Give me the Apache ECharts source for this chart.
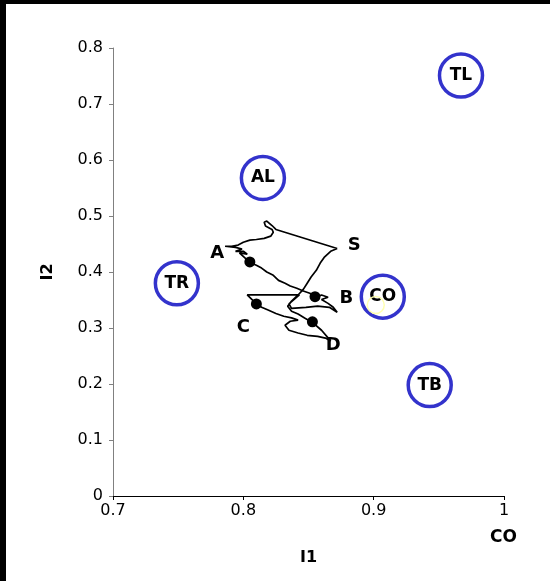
<!DOCTYPE html>
<html>
<head>
<meta charset="utf-8">
<script src="https://cdn.jsdelivr.net/npm/echarts@6/dist/echarts.min.js"></script>
<style>
  html, body { margin: 0; padding: 0; background: #fff; }
  #chart { width: 550px; height: 581px; }
</style>
</head>
<body>
<div id="chart"></div>
<script>
// trajectory in the (I1, I2) plane
let trajI1 = [0.872, 0.825, 0.822, 0.818, 0.816, 0.817, 0.822, 0.823, 0.821, 0.816,
	0.810, 0.805, 0.800, 0.796, 0.791, 0.786, 0.794, 0.799, 0.794, 0.800,
	0.803, 0.797, 0.805, 0.810, 0.814, 0.818, 0.823, 0.827, 0.832, 0.836,
	0.841, 0.846, 0.851, 0.856, 0.860, 0.865, 0.860, 0.865, 0.869, 0.872,
	0.866, 0.857, 0.848, 0.837, 0.835, 0.839, 0.843, 0.820, 0.803, 0.810,
	0.814, 0.819, 0.825, 0.831, 0.837, 0.842, 0.836, 0.832, 0.835, 0.842,
	0.849, 0.857, 0.863, 0.867, 0.860, 0.853, 0.847, 0.842, 0.837, 0.834,
	0.837, 0.842, 0.846, 0.849, 0.852, 0.856, 0.859, 0.862, 0.867, 0.872]
let trajI2 = [0.442, 0.476, 0.483, 0.491, 0.489, 0.482, 0.476, 0.471, 0.464, 0.460,
	0.458, 0.457, 0.453, 0.448, 0.446, 0.446, 0.444, 0.441, 0.437, 0.437,
	0.432, 0.434, 0.417, 0.412, 0.407, 0.400, 0.394, 0.385, 0.380, 0.375,
	0.371, 0.366, 0.362, 0.355, 0.359, 0.355, 0.351, 0.344, 0.337, 0.328,
	0.337, 0.339, 0.337, 0.335, 0.343, 0.351, 0.359, 0.359, 0.359, 0.343,
	0.337, 0.332, 0.326, 0.321, 0.318, 0.314, 0.312, 0.305, 0.296, 0.291,
	0.287, 0.285, 0.282, 0.277, 0.296, 0.310, 0.318, 0.325, 0.330, 0.339,
	0.348, 0.359, 0.369, 0.380, 0.391, 0.403, 0.416, 0.426, 0.437, 0.442]

// black dots on the trajectory
let dotI1 = [0.805, 0.855, 0.810, 0.853]
let dotI2 = [0.418, 0.356, 0.343, 0.311]

// letters next to the trajectory
let pointNames = ['A', 'S', 'B', 'C', 'D']
let pointI1 = [0.780, 0.885, 0.879, 0.800, 0.869]
let pointI2 = [0.433, 0.448, 0.353, 0.302, 0.269]

// reference states (blue circles)
let refNames = ['TL', 'AL', 'TR', 'CO', 'TB']
let refI1 = [0.967, 0.815, 0.749, 0.907, 0.943]
let refI2 = [0.751, 0.568, 0.380, 0.356, 0.198]

let xTicks = [0.7, 0.8, 0.9, 1]
let yTicks = [0, 0.1, 0.2, 0.3, 0.4, 0.5, 0.6, 0.7, 0.8]

function zip(a, b) {
	let out = []
	for (let i = 0; i < a.length; i++) {
		out.push([a[i], b[i]])
	}
	return out
}

let font = 'DejaVu Sans'
let myChart = echarts.init(document.getElementById('chart'))

let option = {
	animation: false,
	backgroundColor: '#fff',
	grid: {
		left: 113,
		right: 46,
		top: 48,
		bottom: 85
	},
	xAxis: {
		type: 'value',
		min: xTicks[0],
		max: xTicks[xTicks.length - 1],
		interval: 0.1,
		name: 'I1',
		nameLocation: 'middle',
		nameGap: 54,
		nameTextStyle: { color: '#000', fontFamily: font, fontWeight: 'bold', fontSize: 16 },
		axisLine: { lineStyle: { color: '#000', width: 1 } },
		axisTick: { inside: false, length: 4, lineStyle: { color: '#000' } },
		axisLabel: { color: '#000', fontFamily: font, fontSize: 16, margin: 7 },
		splitLine: { show: false }
	},
	yAxis: {
		type: 'value',
		min: yTicks[0],
		max: yTicks[yTicks.length - 1],
		interval: 0.1,
		name: 'I2',
		nameLocation: 'middle',
		nameGap: 57,
		nameTextStyle: { color: '#000', fontFamily: font, fontWeight: 'bold', fontSize: 16 },
		axisLine: { show: true, lineStyle: { color: '#808080', width: 1 } },
		axisTick: { show: true, inside: false, length: 4, lineStyle: { color: '#808080' } },
		axisLabel: { color: '#000', fontFamily: font, fontSize: 16, margin: 10 },
		splitLine: { show: false }
	},
	graphic: [
		{ type: 'rect', shape: { x: 0, y: 0, width: 550, height: 4 }, style: { fill: '#000' } },
		{ type: 'rect', shape: { x: 0, y: 0, width: 6, height: 581 }, style: { fill: '#000' } },
		{
			type: 'text', left: 490, top: 529,
			style: { text: 'CO', fill: '#000', font: 'bold 17px "DejaVu Sans"' }
		}
	],
	series: [
		{
			name: 'trajectory',
			type: 'line',
			data: zip(trajI1, trajI2),
			showSymbol: false,
			symbol: 'none',
			lineStyle: { color: '#000', width: 1.7 },
			z: 2
		},
		{
			name: 'dots',
			type: 'scatter',
			data: zip(dotI1, dotI2),
			symbolSize: 11,
			itemStyle: { color: '#000', opacity: 1 },
			z: 3
		},
		{
			name: 'letters',
			type: 'scatter',
			data: pointNames.map(function (n, i) {
				return { name: n, value: [pointI1[i], pointI2[i]] }
			}),
			symbolSize: 1,
			itemStyle: { color: 'rgba(0,0,0,0)', opacity: 1 },
			label: {
				show: true,
				position: 'inside',
				formatter: '{b}',
				color: '#000',
				fontFamily: font,
				fontWeight: 'bold',
				fontSize: 18
			},
			z: 4
		},
		{
			name: 'states',
			type: 'scatter',
			data: refNames.map(function (n, i) {
				return { name: n, value: [refI1[i], refI2[i]] }
			}),
			symbolSize: 43,
			itemStyle: { color: '#fff', borderColor: '#3333cc', borderWidth: 3.5, opacity: 1 },
			label: {
				show: true,
				position: 'inside',
				formatter: '{b}',
				color: '#000',
				fontFamily: font,
				fontWeight: 'bold',
				fontSize: 17
			},
			z: 5
		},
		{
			name: 'faint',
			type: 'scatter',
			data: [[0.9016, 0.341]],
			symbolSize: 17,
			itemStyle: { color: 'rgba(0,0,0,0)', borderColor: '#ffffb0', borderWidth: 1.5, opacity: 1 },
			z: 6
		}
	]
}

myChart.setOption(option)
</script>
</body>
</html>
